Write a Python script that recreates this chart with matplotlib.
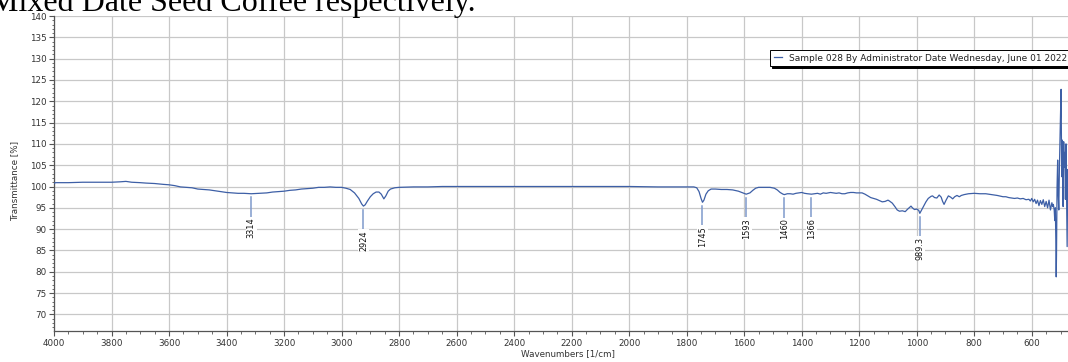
import matplotlib
matplotlib.use("Agg")
import matplotlib.pyplot as plt
from matplotlib.ticker import MultipleLocator

# ---- data ----
wavenumbers = [
    4000, 3995, 3990, 3950, 3900, 3850, 3800, 3770, 3750, 3730, 3700, 3680, 3650,
    3620, 3600, 3580, 3560, 3540, 3520, 3500, 3480, 3460, 3440, 3420, 3400, 3380,
    3360, 3340, 3314, 3290, 3260, 3240, 3220, 3200, 3180, 3160, 3140, 3120, 3100,
    3080, 3060, 3040, 3020, 3000, 2985, 2970, 2955, 2940, 2930, 2924, 2918, 2910,
    2900, 2890, 2880, 2870, 2862, 2853, 2846, 2838, 2830, 2815, 2800, 2750, 2700,
    2650, 2600, 2500, 2400, 2300, 2200, 2100, 2000, 1900, 1800, 1775, 1765, 1757,
    1750, 1745, 1740, 1733, 1725, 1715, 1700, 1680, 1660, 1640, 1620, 1605, 1593,
    1580, 1570, 1560, 1550, 1530, 1510, 1495, 1485, 1475, 1465, 1460, 1450, 1440,
    1430, 1420, 1410, 1400, 1390, 1380, 1366, 1355, 1345, 1335, 1325, 1315, 1300,
    1290, 1280, 1270, 1260, 1250, 1240, 1230, 1220, 1210, 1200, 1190, 1180, 1170,
    1160, 1150, 1140, 1130, 1120, 1110, 1100, 1095, 1085, 1075, 1068, 1060, 1050,
    1040, 1033, 1025, 1020, 1015, 1008, 1000, 993, 989.3, 983, 975, 968, 960, 950,
    945, 938, 930, 922, 915, 910, 905, 898, 890, 882, 875, 868, 860, 852, 845, 835,
    820, 800, 780, 760, 740, 720, 700, 690, 680, 670, 660, 650, 640, 630, 620, 610,
    605, 600, 595, 590, 585, 580, 575, 570, 565, 560, 555, 550, 545, 540, 535, 530,
    527, 525, 522, 520, 518, 516, 515, 514, 512, 510, 508, 506, 504, 502, 500, 498,
    497, 496, 494, 492, 491, 489, 487, 485, 483, 481, 479, 477, 475, 474,
]
transmittance = [
    100.7, 100.9, 100.9, 100.9, 101.0, 101.0, 101.0, 101.1, 101.2, 101.0, 100.9,
    100.8, 100.7, 100.5, 100.4, 100.2, 99.9, 99.8, 99.7, 99.4, 99.3, 99.2, 99.0,
    98.8, 98.6, 98.5, 98.4, 98.4, 98.3, 98.4, 98.5, 98.7, 98.8, 98.9, 99.1, 99.2,
    99.4, 99.5, 99.6, 99.8, 99.8, 99.9, 99.8, 99.8, 99.6, 99.3, 98.5, 97.2, 95.9,
    95.4, 95.7, 96.6, 97.6, 98.3, 98.7, 98.7, 98.2, 97.1, 97.8, 98.9, 99.4, 99.7,
    99.8, 99.9, 99.9, 100.0, 100.0, 100.0, 100.0, 100.0, 100.0, 100.0, 100.0, 99.9,
    99.9, 99.9, 99.7, 98.8, 97.2, 96.3, 96.8, 98.2, 99.0, 99.4, 99.4, 99.3, 99.3,
    99.2, 98.9, 98.5, 98.2, 98.5, 99.1, 99.6, 99.8, 99.8, 99.8, 99.6, 99.2, 98.6,
    98.2, 98.1, 98.3, 98.3, 98.2, 98.4, 98.5, 98.6, 98.4, 98.3, 98.2, 98.3, 98.4,
    98.2, 98.5, 98.4, 98.6, 98.5, 98.4, 98.5, 98.3, 98.3, 98.5, 98.6, 98.6, 98.5,
    98.5, 98.5, 98.2, 97.8, 97.4, 97.2, 97.0, 96.7, 96.4, 96.5, 96.8, 96.6, 96.1,
    95.2, 94.5, 94.2, 94.3, 94.1, 94.6, 95.1, 95.4, 95.0, 94.6, 94.7, 94.4, 93.7,
    94.5, 95.5, 96.4, 97.2, 97.7, 97.8, 97.4, 97.3, 98.0, 97.5, 96.5, 95.8, 96.8,
    97.8, 97.5, 97.1, 97.6, 97.9, 97.6, 97.9, 98.1, 98.3, 98.4, 98.3, 98.3, 98.1,
    97.9, 97.6, 97.6, 97.4, 97.3, 97.2, 97.3, 97.1, 97.2, 96.9, 97.0, 96.6, 97.2,
    96.4, 97.0, 96.0, 96.8, 95.5, 96.7, 95.8, 96.9, 95.3, 96.5, 95.0, 96.8, 94.5,
    96.2, 95.3, 95.8, 94.5, 92.0, 95.0, 86.0, 78.8, 84.0, 100.0, 106.2, 98.0, 94.5,
    104.0, 111.0, 117.0, 122.8, 112.0, 102.3, 110.9, 104.0, 95.3, 110.5, 104.6,
    108.0, 97.0, 110.0, 99.0, 85.9, 104.0, 98.0,
]
peak_positions = [3314, 2924, 1745, 1593, 1460, 1366, 989.3]
peak_values = [98.3, 95.4, 96.3, 98.2, 98.1, 98.2, 93.7]
peak_labels = ["3314", "2924", "1745", "1593", "1460", "1366", "989.3"]
series_label = "Sample 028 By Administrator Date Wednesday, June 01 2022"
x_ticks = list(range(4000, 599, -200))
y_ticks = list(range(70, 141, 5))

W, H = 1068, 362
fig = plt.figure(figsize=(W / 100, H / 100), dpi=100)
ax_left, ax_right, ax_top, ax_bottom = 54, 1068, 16, 331
ax = fig.add_axes([ax_left / W, 1 - ax_bottom / H, (ax_right - ax_left) / W,
                   (ax_bottom - ax_top) / H])

line_color = "#3d5fa6"
ax.plot(wavenumbers, transmittance, color=line_color, lw=0.9, label=series_label,
        zorder=3)

ax.set_xlim(4000, 474)
ax.set_ylim(66.1, 140)
ax.set_xticks(x_ticks)
ax.set_yticks(y_ticks)
ax.xaxis.set_minor_locator(MultipleLocator(50))
ax.yaxis.set_minor_locator(MultipleLocator(1))
ax.grid(True, which="major", color="#c8c8c8", lw=0.9, zorder=0)
ax.set_axisbelow(True)

for s in ["top", "right"]:
    ax.spines[s].set_visible(False)
for s in ["left", "bottom"]:
    ax.spines[s].set_color("#555555")
    ax.spines[s].set_linewidth(0.9)

tick_col = "#333333"
ax.tick_params(axis="both", which="major", length=3.5, width=0.8, color="#555555",
               labelsize=6.3, labelcolor=tick_col, pad=2)
ax.tick_params(axis="both", which="minor", length=1.8, width=0.6, color="#555555")

ax.set_xlabel("Wavenumbers [1/cm]", fontsize=6.3, color=tick_col)
ax.set_ylabel("Transmittance [%]", fontsize=6.3, color=tick_col)
ax.xaxis.set_label_coords((568 - ax_left) / (ax_right - ax_left),
                          (ax_bottom - 349) / (ax_bottom - ax_top))
ax.yaxis.set_label_coords((19 - ax_left) / (ax_right - ax_left),
                          (ax_bottom - 181) / (ax_bottom - ax_top))

# peak annotations
for xp, yp, lab in zip(peak_positions, peak_values, peak_labels):
    ax.plot([xp, xp], [yp - 0.8, yp - 5.6], color="#7f9acb", lw=1.1, zorder=2)
    ax.text(xp, yp - 5.6, lab, rotation=90, ha="center", va="top", fontsize=5.9,
            color="#111111", zorder=4,
            bbox=dict(boxstyle="square,pad=0.1", fc="white", ec="none"))

leg = ax.legend(loc="upper left",
                bbox_to_anchor=((770 - ax_left) / (ax_right - ax_left),
                                (ax_bottom - 50) / (ax_bottom - ax_top)),
                borderaxespad=0, fontsize=6.5, handlelength=0.9,
                handletextpad=0.8, borderpad=0.4, fancybox=False,
                shadow={"color": "black", "alpha": 1.0, "ox": 1.5, "oy": -1.5},
                framealpha=1)
leg.get_frame().set_edgecolor("black")
leg.get_frame().set_linewidth(0.7)
for t in leg.get_texts():
    t.set_color("#222222")

fig.text(476 / W, 1 - 11 / H, "Mixed Date Seed Coffee respectively.",
         ha="right", va="baseline", fontsize=23, family="Liberation Serif",
         color="black")

fig.savefig("out.png", dpi=100)
